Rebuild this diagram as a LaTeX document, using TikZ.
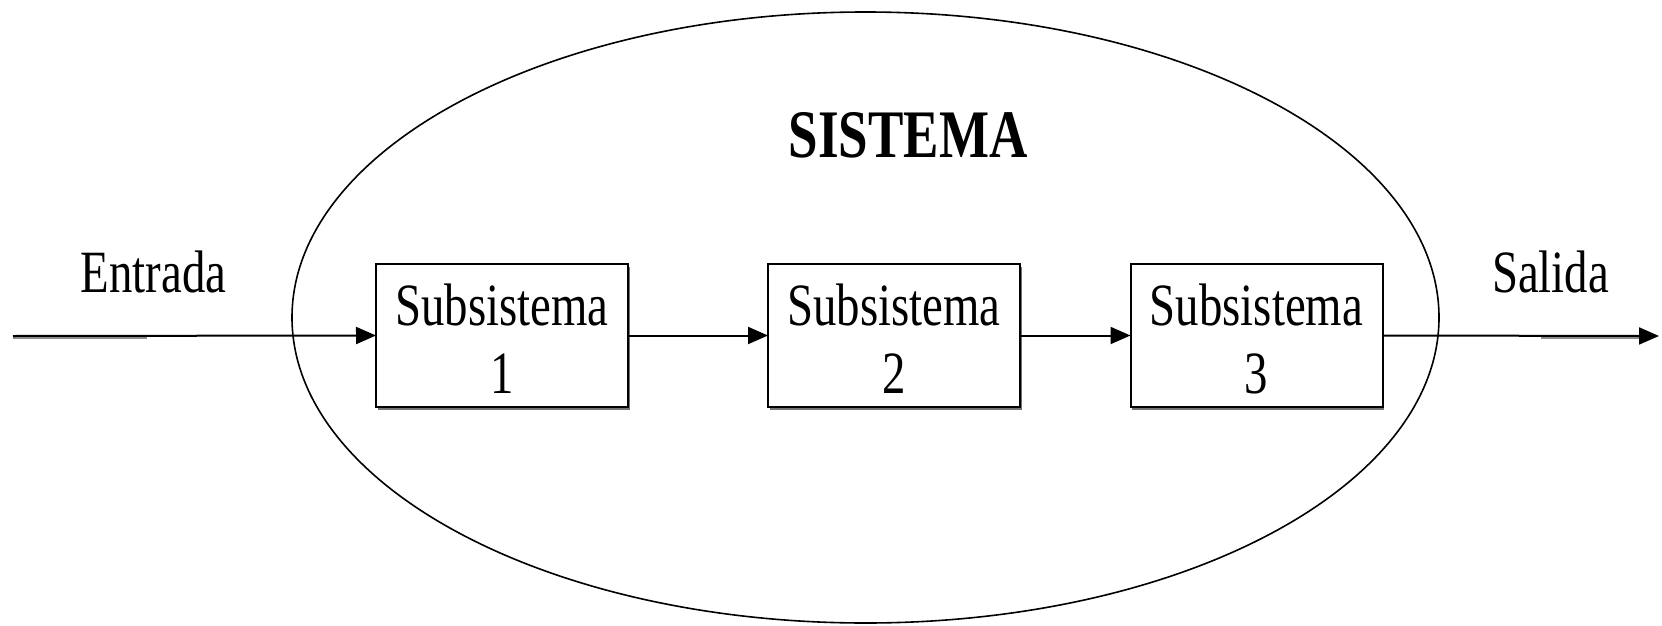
\documentclass[tikz,border=0pt]{standalone}
\usepackage{fontspec}
\setmainfont{Liberation Serif}[FakeStretch=0.78]
\usetikzlibrary{arrows.meta,shapes.geometric,shadows}
\begin{document}
\begin{tikzpicture}[x=1pt,y=-1pt,
  every node/.style={inner sep=0pt,outer sep=0pt},
  sysshape/.style={ellipse,draw,line width=1.6pt,minimum width=1147pt,minimum height=611pt},
  subbox/.style={draw,line width=2pt,fill=white,minimum width=252pt,minimum height=143pt,
    align=center,text height=115pt,text depth=0pt,font=\fontsize{60}{68}\selectfont,
    drop shadow={shadow xshift=1.5pt,shadow yshift=-3pt,fill=black!55,opacity=1}},
  lbl/.style={font=\fontsize{60}{68}\selectfont,anchor=base},
  title/.style={font=\fontsize{68}{72}\selectfont\bfseries,anchor=base},
  flow/.style={line width=2pt,-{Triangle[length=20pt,width=17pt]}}
]
\useasboundingbox (0,0) rectangle (1662,626);

% system boundary
\node[sysshape] (sys) at (865.5,317.5) {};
\node[title] (systitle) at (908,157) {SISTEMA};

% subsystems in series
\node[subbox] (s1) at (502,335.5) {Subsistema\\1};
\node[subbox] (s2) at (894,335.5) {Subsistema\\2};
\node[subbox] (s3) at (1256.5,335.5) {Subsistema\\3};

% input and output ends
\coordinate (in) at (13,336);
\coordinate (out) at (1659,336);

% faint doubled strokes on the outer ends of the signal line
\draw[black!45,line width=3pt] (13,337.5) -- (147,337.5);
\draw[black!45,line width=3pt] (1541,337.5) -- (1640,337.5);

% signal flow
\draw[flow] (in) -- (s1.west);
\draw[flow] (s1.east) -- (s2.west);
\draw[flow] (s2.east) -- (s3.west);
\draw[flow] (s3.east) -- (out);

% labels
\node[lbl] (entrada) at (153.5,292) {Entrada};
\node[lbl] (salida) at (1550.5,292) {Salida};
\end{tikzpicture}
\end{document}
